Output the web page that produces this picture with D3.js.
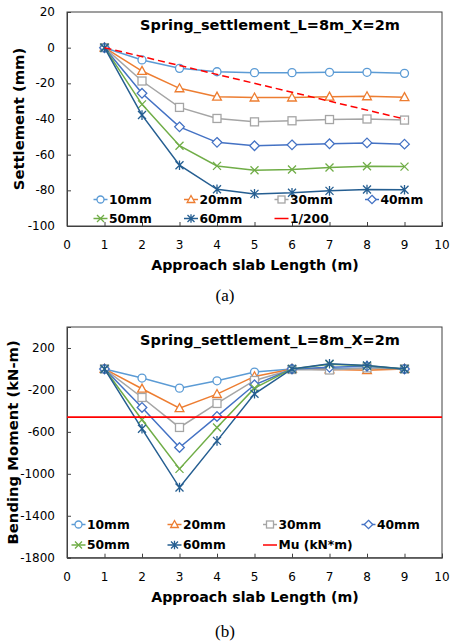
<!DOCTYPE html>
<html>
<head>
<meta charset="utf-8">
<script src="https://cdn.jsdelivr.net/npm/d3@7"></script>
<style>
  body { margin: 0; background: #fff; }
  svg { display: block; }
  text { font-family: "DejaVu Sans", Verdana, sans-serif; fill: #000; }
</style>
</head>
<body>
<svg id="chart" width="451" height="641"></svg>
<script>
// slab positions
const lengths = [1, 2, 3, 4, 5, 6, 7, 8, 9];
const seriesNames = ["10mm", "20mm", "30mm", "40mm", "50mm", "60mm"];

// (a) settlement, mm
const settle10 = [0, -6.9, -11.6, -13.5, -14, -14, -13.8, -13.8, -14.4];
const settle20 = [0, -13.1, -22.8, -27.5, -28, -28, -27.5, -27.3, -27.8];
const settle30 = [0, -18.7, -33.5, -39.7, -41.6, -41, -40.3, -40, -40.6];
const settle40 = [0, -25.6, -44.4, -53.1, -55, -54.5, -53.9, -53.4, -54.1];
const settle50 = [0, -31.8, -55, -66.3, -68.7, -68.3, -67.2, -66.5, -66.7];
const settle60 = [0, -37.8, -65.9, -79.4, -82, -81.4, -80.3, -79.5, -79.7];
const limitX = [1, 9];
const limitY = [0, -40];   // 1/200

// (b) bending moment, kN-m
const moment10 = [0, -87, -183, -113, -30, 0, 5, 5, 0];
const moment20 = [0, -189, -374, -240, -71, 0, -5, -12, 0];
const moment30 = [0, -272, -558, -329, -110, -5, -10, 10, 0];
const moment40 = [0, -367, -749, -453, -151, 0, 15, 25, 0];
const moment50 = [0, -485, -953, -558, -183, 0, 45, 30, 0];
const moment60 = [0, -571, -1131, -686, -237, 0, 50, 33, 0];
const muValue = -460;

const xTicks = [0, 1, 2, 3, 4, 5, 6, 7, 8, 9, 10];
const settleTicks = [20, 0, -20, -40, -60, -80, -100];
const momentTicks = [200, -200, -600, -1000, -1400, -1800];

const colors = ["#5B9BD5", "#ED7D31", "#A5A5A5", "#4472C4", "#70AD47", "#255E91"];
const shapes = ["circle", "triangle", "square", "diamond", "cross", "star"];

const svg = d3.select("#chart");

function marker(g, shape, x, y, color, s) {
  const m = g.append("g").attr("transform", `translate(${x},${y})`)
    .attr("stroke", color).attr("stroke-width", 1.3).attr("fill", "#fff");
  if (shape === "circle") {
    m.append("circle").attr("r", s);
  } else if (shape === "triangle") {
    m.append("path").attr("d", `M0,${-s * 1.15}L${s * 1.1},${s * 0.85}L${-s * 1.1},${s * 0.85}Z`);
  } else if (shape === "square") {
    m.append("rect").attr("x", -s).attr("y", -s).attr("width", 2 * s).attr("height", 2 * s);
  } else if (shape === "diamond") {
    const d = s * 1.2;
    m.append("path").attr("d", `M0,${-d}L${d},0L0,${d}L${-d},0Z`);
  } else if (shape === "cross") {
    m.append("path").attr("fill", "none").attr("d", `M${-s},${-s}L${s},${s}M${-s},${s}L${s},${-s}`);
  } else if (shape === "star") {
    m.append("path").attr("fill", "none")
      .attr("d", `M${-s},${-s}L${s},${s}M${-s},${s}L${s},${-s}M0,${-s * 1.2}L0,${s * 1.2}`);
  }
}

function drawPanel(opt) {
  const x = d3.scaleLinear().domain([0, 10]).range([67, 442]);
  const y = d3.scaleLinear().domain(opt.yDomain).range(opt.yRange);
  const g = svg.append("g");

  // frame
  g.append("rect")
    .attr("x", x(0)).attr("y", opt.yRange[1])
    .attr("width", x(10) - x(0)).attr("height", opt.yRange[0] - opt.yRange[1])
    .attr("fill", "none").attr("stroke", "#404040").attr("stroke-width", 1);

  // axes with inside ticks
  const xAxis = g.append("g").attr("transform", `translate(0,${opt.yRange[0]})`)
    .call(d3.axisTop(x).tickValues(xTicks).tickSize(4).tickFormat(""));
  const yAxis = g.append("g").attr("transform", `translate(${x(0)},0)`)
    .call(d3.axisRight(y).tickValues(opt.yTicks).tickSize(4).tickFormat(""));
  [xAxis, yAxis].forEach(a => {
    a.select(".domain").attr("stroke", "#404040");
    a.selectAll(".tick line").attr("stroke", "#404040");
  });

  g.selectAll(".xlab").data(xTicks).enter().append("text")
    .attr("x", d => x(d)).attr("y", opt.yRange[0] + 19)
    .attr("text-anchor", "middle").attr("dominant-baseline", "central")
    .style("font-size", "12px").text(d => d);
  g.selectAll(".ylab").data(opt.yTicks).enter().append("text")
    .attr("x", 55).attr("y", d => y(d))
    .attr("text-anchor", "end").attr("dominant-baseline", "central")
    .style("font-size", "12px").text(d => d);

  g.append("text").attr("x", 270).attr("y", opt.yRange[1] + 13)
    .attr("text-anchor", "middle").attr("dominant-baseline", "central")
    .style("font-size", "14.5px").style("font-weight", "bold")
    .text("Spring_settlement_L=8m_X=2m");

  g.append("text").attr("x", 255).attr("y", opt.yRange[0] + 39)
    .attr("text-anchor", "middle").attr("dominant-baseline", "central")
    .style("font-size", "14.2px").style("font-weight", "bold")
    .text("Approach slab Length (m)");

  g.append("text")
    .attr("transform", `translate(${opt.yTitleX},${(opt.yRange[0] + opt.yRange[1]) / 2}) rotate(-90)`)
    .attr("text-anchor", "middle").attr("dominant-baseline", "central")
    .style("font-size", "14.8px").style("font-weight", "bold")
    .text(opt.yTitle);

  g.append("text").attr("x", 225).attr("y", opt.captionY)
    .attr("text-anchor", "middle").attr("dominant-baseline", "central")
    .style("font-family", "'Liberation Serif', 'Times New Roman', serif")
    .style("font-size", "17px").text(opt.caption);

  // series
  const line = d3.line().x((d, i) => x(lengths[i])).y(d => y(d));
  opt.series.forEach((vals, k) => {
    g.append("path").datum(vals).attr("d", line)
      .attr("fill", "none").attr("stroke", colors[k]).attr("stroke-width", 1.5);
    vals.forEach((v, i) => marker(g, shapes[k], x(lengths[i]), y(v), colors[k], 4));
  });

  // limit line
  opt.drawLimit(g, x, y);

  // legend
  const leg = g.append("g");
  const names = seriesNames.concat([opt.limitName]);
  names.forEach((n, i) => {
    const col = i % 4, row = Math.floor(i / 4);
    const cx = opt.legX[col], cy = opt.legY[row];
    const c = i < 6 ? colors[i] : "#FF0000";
    leg.append("line").attr("x1", cx - 7).attr("x2", cx + 7).attr("y1", cy).attr("y2", cy)
      .attr("stroke", c).attr("stroke-width", 1.5);
    if (i < 6) marker(leg, shapes[i], cx, cy, c, 3.5);
    leg.append("text").attr("x", cx + 8.5).attr("y", cy)
      .attr("dominant-baseline", "central")
      .style("font-size", "12.3px").style("font-weight", "bold").text(n);
  });
}

drawPanel({
  yDomain: [-100, 20], yRange: [226, 12], yTicks: settleTicks,
  yTitle: "Settlement (mm)", yTitleX: 18, caption: "(a)", captionY: 295,
  series: [settle10, settle20, settle30, settle40, settle50, settle60],
  limitName: "1/200",
  drawLimit: (g, x, y) => {
    g.append("line").attr("x1", x(limitX[0])).attr("y1", y(limitY[0]))
      .attr("x2", x(limitX[1])).attr("y2", y(limitY[1]))
      .attr("stroke", "#FF0000").attr("stroke-width", 1.5).attr("stroke-dasharray", "7,4");
  },
  legX: [100.5, 191, 281.5, 372], legY: [199.5, 218.5]
});

drawPanel({
  yDomain: [-1800, 400], yRange: [557.7, 327], yTicks: momentTicks,
  yTitle: "Bending Moment (kN-m)", yTitleX: 12, caption: "(b)", captionY: 631.5,
  series: [moment10, moment20, moment30, moment40, moment50, moment60],
  limitName: "Mu (kN*m)",
  drawLimit: (g, x, y) => {
    g.append("line").attr("x1", x(0)).attr("y1", y(muValue))
      .attr("x2", x(10)).attr("y2", y(muValue))
      .attr("stroke", "#FF0000").attr("stroke-width", 1.8);
  },
  legX: [78.5, 174.5, 270, 368.5], legY: [524.5, 545]
});
</script>
</body>
</html>
